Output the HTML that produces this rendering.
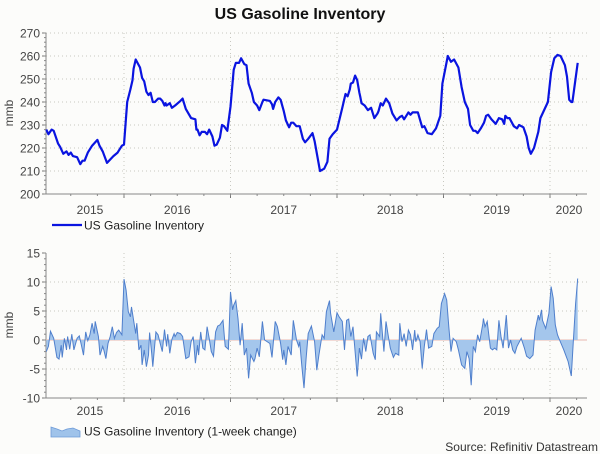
<!DOCTYPE html>
<html><head><meta charset="utf-8"><style>
body{margin:0;background:#fcfcfa;}
svg{display:block;font-family:"Liberation Sans",sans-serif;}
</style></head><body>
<svg id="chart" width="600" height="454" viewBox="0 0 600 454">
<rect width="600" height="454" fill="#fcfcfa"/>
<text x="300" y="19" text-anchor="middle" font-size="16" font-weight="bold" fill="#111">US Gasoline Inventory</text>
<g id="topPanel"></g><g id="botPanel"></g>
<g>
<line x1="52" y1="225" x2="82" y2="225" stroke="#0a14e0" stroke-width="2.2"/>
<text x="84" y="229.5" font-size="12" fill="#222">US Gasoline Inventory</text></g>
<g>
<path d="M51 437 L51 427 L57 429 L62 431 L67 429 L73 428 L80 431 L80 437Z" fill="#9fc3ea" stroke="#6d9ad8" stroke-width="0.8"/>
<text x="84" y="435.5" font-size="12" fill="#222">US Gasoline Inventory (1-week change)</text></g>
<text x="598" y="451" text-anchor="end" font-size="12" fill="#333">Source: Refinitiv Datastream</text>
</svg>
<script>
const topDates=[2015.27,2015.29,2015.32,2015.34,2015.38,2015.40,2015.43,2015.46,2015.48,2015.50,2015.52,2015.56,2015.59,2015.61,2015.63,2015.66,2015.70,2015.75,2015.77,2015.80,2015.84,2015.87,2015.90,2015.94,2015.98,2016.00,2016.03,2016.06,2016.08,2016.09,2016.11,2016.15,2016.17,2016.19,2016.21,2016.23,2016.25,2016.27,2016.29,2016.32,2016.34,2016.36,2016.38,2016.39,2016.40,2016.43,2016.45,2016.48,2016.53,2016.55,2016.58,2016.63,2016.67,2016.68,2016.69,2016.71,2016.73,2016.76,2016.78,2016.80,2016.83,2016.85,2016.87,2016.90,2016.92,2016.94,2016.97,2017.00,2017.03,2017.05,2017.08,2017.10,2017.13,2017.15,2017.17,2017.20,2017.22,2017.25,2017.27,2017.30,2017.31,2017.37,2017.39,2017.40,2017.42,2017.45,2017.47,2017.50,2017.52,2017.55,2017.57,2017.59,2017.62,2017.65,2017.68,2017.70,2017.73,2017.77,2017.79,2017.84,2017.88,2017.91,2017.93,2017.96,2018.00,2018.05,2018.08,2018.10,2018.12,2018.13,2018.15,2018.17,2018.19,2018.21,2018.22,2018.23,2018.26,2018.29,2018.32,2018.35,2018.38,2018.39,2018.41,2018.43,2018.46,2018.49,2018.52,2018.56,2018.59,2018.61,2018.63,2018.67,2018.69,2018.71,2018.76,2018.80,2018.82,2018.83,2018.85,2018.89,2018.93,2018.97,2018.99,2019.04,2019.07,2019.10,2019.14,2019.17,2019.20,2019.23,2019.25,2019.28,2019.30,2019.32,2019.35,2019.38,2019.40,2019.42,2019.45,2019.49,2019.52,2019.55,2019.57,2019.58,2019.60,2019.62,2019.66,2019.69,2019.71,2019.75,2019.78,2019.80,2019.82,2019.85,2019.89,2019.91,2019.95,2019.98,2020.01,2020.04,2020.07,2020.10,2020.14,2020.16,2020.18,2020.20,2020.21,2020.26];
const topValues=[228,226,228,227.5,222,220.5,217.5,218.5,217,218,216.5,216,213,214.5,214.5,218,221,223.5,221,218.5,213.5,215,216.5,218,221,221.5,240,245.5,249.5,254.5,258.5,255,250.5,249,244.5,243,244,240,240,241.5,241.5,240.5,238.5,239.5,238.5,239.5,237.5,238.5,240.5,241.5,237,233,232.5,228,228,225.5,227,227,226,228,225,221,221.5,224.5,230,229.5,227.5,238,254,257,257,259,256.5,256,248,244,240,238.5,236.5,240,241,240.5,239,237,240,242,241,236,232,229,231,231,229.5,229.5,224,222.5,224,226.5,223,210,211,214,224,226,228,237.5,243.5,242.5,245.5,248,248.5,251.5,249.5,244,242,239.5,238.5,236.5,237.5,233,235,236,239.5,238.5,241.5,239.5,235,232,233.5,234,232.5,235.5,234.5,235.5,235.5,229,229.5,228.5,226.5,226,228.5,234,248,260,257.5,258.5,255,246.5,240,237,230,227.5,227.5,226.5,228.5,231,234,234.5,232.5,230.5,233,232.5,230.5,234,233,233,229.5,228.5,230,229,225,220,217.5,220,227,233,237,240,253,259,260.5,260,256,251,241,240,240,257];
const chgDates=[2015.27,2015.29,2015.31,2015.34,2015.37,2015.39,2015.41,2015.42,2015.44,2015.46,2015.47,2015.49,2015.51,2015.53,2015.56,2015.58,2015.60,2015.62,2015.64,2015.66,2015.68,2015.70,2015.72,2015.73,2015.76,2015.775,2015.80,2015.81,2015.83,2015.85,2015.87,2015.89,2015.91,2015.93,2015.95,2015.98,2016.00,2016.02,2016.04,2016.06,2016.07,2016.09,2016.11,2016.12,2016.14,2016.16,2016.17,2016.19,2016.21,2016.23,2016.24,2016.26,2016.27,2016.30,2016.32,2016.34,2016.36,2016.38,2016.40,2016.41,2016.43,2016.45,2016.47,2016.48,2016.50,2016.53,2016.55,2016.58,2016.61,2016.63,2016.65,2016.67,2016.69,2016.70,2016.72,2016.74,2016.76,2016.78,2016.80,2016.82,2016.84,2016.86,2016.88,2016.90,2016.93,2016.95,2016.98,2017.00,2017.02,2017.03,2017.05,2017.07,2017.09,2017.11,2017.13,2017.15,2017.17,2017.19,2017.22,2017.23,2017.25,2017.27,2017.30,2017.32,2017.37,2017.39,2017.42,2017.44,2017.47,2017.49,2017.50,2017.52,2017.54,2017.57,2017.59,2017.62,2017.64,2017.65,2017.67,2017.69,2017.71,2017.73,2017.76,2017.79,2017.81,2017.83,2017.86,2017.88,2017.90,2017.93,2017.94,2017.97,2018.00,2018.02,2018.05,2018.07,2018.09,2018.11,2018.13,2018.15,2018.19,2018.21,2018.23,2018.25,2018.27,2018.29,2018.31,2018.34,2018.36,2018.37,2018.40,2018.41,2018.44,2018.46,2018.48,2018.50,2018.53,2018.55,2018.58,2018.59,2018.61,2018.63,2018.65,2018.67,2018.69,2018.71,2018.73,2018.74,2018.76,2018.78,2018.80,2018.82,2018.84,2018.86,2018.89,2018.91,2018.94,2018.96,2018.98,2019.01,2019.03,2019.05,2019.07,2019.09,2019.12,2019.14,2019.17,2019.20,2019.22,2019.24,2019.26,2019.28,2019.30,2019.32,2019.34,2019.37,2019.375,2019.39,2019.41,2019.44,2019.46,2019.48,2019.50,2019.52,2019.54,2019.56,2019.59,2019.61,2019.63,2019.65,2019.67,2019.69,2019.73,2019.76,2019.78,2019.81,2019.84,2019.86,2019.89,2019.90,2019.92,2019.93,2019.94,2019.96,2019.99,2020.01,2020.03,2020.05,2020.07,2020.09,2020.13,2020.17,2020.20,2020.22,2020.24,2020.26];
const chgValues=[-2,-1.1,1.5,0.3,-3,-3.3,-0.9,-3,0.3,-1.7,0.6,-1.6,1,-1.7,0.3,0.7,-0.9,-2.6,1.4,-0.1,0.9,2.9,1.1,3.2,0.6,-2.6,-1.1,-1.7,-3.2,-0.6,0.6,2.3,0.3,1.3,1.7,0.9,10.5,8.6,4.9,4,5.7,3.4,1.1,2.9,-1.7,-0.9,-4.3,-1.7,-4.6,-2.6,1.3,-2.3,-4.6,1.4,0.9,-0.6,-2,1.8,-1.1,1,-2.3,0.1,1.1,0.6,1.3,1.1,0.6,-3.2,-2.9,-0.3,0.6,-4,-0.9,-2.6,1.4,-1.4,-1.7,2.3,0.3,-2,-2.8,1.4,2.4,2.6,3.4,-1.1,-1.6,8.3,5.2,6,6.8,3.7,-0.9,2.9,-2.6,-1.4,-6.6,-2.6,-3.7,-3.2,-1.4,-2.9,3.2,0,-0.6,-3,3.2,2.3,-0.6,-3.4,-1.7,-4.3,-1.1,-2.6,3.4,0,-1.1,-0.3,-4.6,-8.3,-3.2,1.1,2.4,-0.3,-5.2,-2.6,0.9,0.3,4.9,6.8,4.6,1.4,4.7,4,3.2,-1.7,3.4,3.6,0.6,2.3,-6.3,-1.4,-3.3,0.3,-2,0.6,0.9,-2.3,-3.4,1.4,0.6,4.6,-2,3.2,0.9,-1.4,-3,-2.3,-2.6,2.9,-0.3,1.1,-1.1,1.7,0.9,-1.7,1.7,-0.3,0.9,-0.3,-4.9,-1.1,1.8,-1.4,-1.1,1.1,2,2.3,6.3,8,6.9,2.3,-2,0.3,-0.3,-1.7,-4.3,-4.9,-2,-3.2,-7.8,-1.1,-2,0.9,-0.3,2.9,3.7,2.3,3.2,-1.4,-1.7,-1.4,-1.7,3.4,0.6,-1.4,4.3,-1.4,0,-1.7,-2.3,-1.1,0.3,-1.4,-2.8,-3.2,-2.6,1.7,4.3,3.4,5.2,3.4,2.9,2,4.6,9.2,7.2,2.6,0.9,0,-1.7,-3.7,-6.2,0,6.3,10.6];
const yearLabels=["2015","2016","2017","2018","2019","2020"];
const topTicks=[200,210,220,230,240,250,260,270];
const botTicks=[-10,-5,0,5,10,15];

const NS="http://www.w3.org/2000/svg";
const X0=46,X1=587;
const xs=t=>124+(t-2016)*106.5;
const ty=v=>194-(v-200)*(161/70);
const by=v=>398-(v+10)*(145/25);
function mk(p,tag,a){const e=document.createElementNS(NS,tag);for(const k in a)e.setAttribute(k,a[k]);p.appendChild(e);return e;}
function axes(g,y0,y1,ticks,yf,labelY,minorStep,gridSkip){
  ticks.forEach(v=>{
    const y=yf(v);
    if(v!==ticks[0]&&!gridSkip(v)){const l=mk(g,'line',{x1:X0,x2:X1,y1:y,y2:y,stroke:'#c8c8c0','stroke-width':1,'stroke-dasharray':'1,3'});
      
      }
    const t=mk(g,'text',{x:40,y:y+4.5,'text-anchor':'end','font-size':12,fill:'#444'});t.textContent=v;
    
    
    mk(g,'line',{x1:42,x2:46,y1:y,y2:y,stroke:'#777'});
  });
  for(let v=ticks[0];v<=ticks[ticks.length-1];v+=minorStep){const y=yf(v);mk(g,'line',{x1:44,x2:46,y1:y,y2:y,stroke:'#888'});}
  for(let yr=2016;yr<=2020;yr++){const x=xs(yr);
    const l=mk(g,'line',{x1:x,x2:x,y1:y0,y2:y1,stroke:'#c8c8c0','stroke-dasharray':'1,3'});
    
    
    mk(g,'line',{x1:x,x2:x,y1:y1,y2:y1+4,stroke:'#777'});}
  for(let q=2015.25;q<2020.3;q+=0.25){const x=xs(q);if(x>X0&&x<X1)mk(g,'line',{x1:x,x2:x,y1:y1,y2:y1+2,stroke:'#888'});}
  yearLabels.forEach(s=>{const yr=+s;let x=xs(yr+0.5);if(yr===2015)x=90;if(yr===2020)x=569;
    const t=mk(g,'text',{x:x,y:labelY,'text-anchor':'middle','font-size':12,fill:'#444'});t.textContent=s;
    
    });
  mk(g,'line',{x1:X0,x2:X0,y1:y0,y2:y1,stroke:'#888'});
  mk(g,'line',{x1:X0,x2:X1,y1:y1,y2:y1,stroke:'#888'});
}
const topG=document.getElementById('topPanel');


axes(topG,33,194,topTicks,ty,214,2,v=>false);
const ml=mk(topG,'text',{transform:'translate(13,113) rotate(-90)','text-anchor':'middle','font-size':12,fill:'#444'});ml.textContent='mmb';


const dPath=topDates.map((t,i)=>(i?'L':'M')+xs(t).toFixed(1)+' '+ty(topValues[i]).toFixed(1)).join(' ');
const invLine=mk(topG,'path',{d:dPath,fill:'none',stroke:'#0a14e0','stroke-width':2.2,'stroke-linejoin':'round'});



const botG=document.getElementById('botPanel');


axes(botG,253,398,botTicks,by,415,1,v=>v===0||v===15);
const ml2=mk(botG,'text',{transform:'translate(13,325) rotate(-90)','text-anchor':'middle','font-size':12,fill:'#444'});ml2.textContent='mmb';


const zl=mk(botG,'line',{x1:X0,x2:X1,y1:by(0),y2:by(0),stroke:'#e8b8b0','stroke-width':1});


const pts=chgDates.map((t,i)=>xs(t).toFixed(1)+' '+by(chgValues[i]).toFixed(1));
const z0=by(0).toFixed(1);
const area=mk(botG,'path',{d:'M'+xs(chgDates[0]).toFixed(1)+' '+z0+' L'+pts.join(' L')+' L'+xs(chgDates[chgDates.length-1]).toFixed(1)+' '+z0+'Z',fill:'#a4c6ec',stroke:'none'});


const l2=mk(botG,'path',{d:'M'+pts.join(' L'),fill:'none',stroke:'#4f7fcc','stroke-width':1});


</script>
</body></html>
